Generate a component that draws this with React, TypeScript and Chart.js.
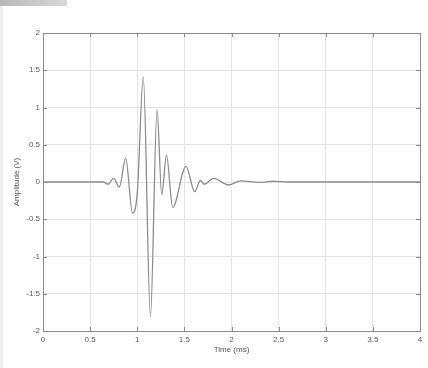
import React, { useEffect, useRef } from "react";
import { Chart, registerables } from "chart.js";

Chart.register(...registerables);

const times = [0, 0.64, 0.69, 0.75, 0.81, 0.877, 0.95, 1.0, 1.064, 1.14, 1.21, 1.26, 1.31, 1.376, 1.517, 1.61, 1.67, 1.71, 1.81, 1.97, 2.1, 2.3, 2.44, 2.6, 4];
const amplitudes = [0, 0, -0.03, 0.05, -0.07, 0.32, -0.42, -0.15, 1.41, -1.81, 0.97, -0.17, 0.36, -0.34, 0.21, -0.13, 0.02, -0.03, 0.05, -0.04, 0.015, -0.005, 0.01, 0, 0];
const xTicks = [0, 0.5, 1, 1.5, 2, 2.5, 3, 3.5, 4];
const yTicks = [-2, -1.5, -1, -0.5, 0, 0.5, 1, 1.5, 2];
const xTitle = "Time (ms)";
const yTitle = "Amplitude (V)";

const boxPlugin = {
  id: "matlabBox",
  afterDraw(chart: any) {
    const { ctx, chartArea: a, scales } = chart;
    ctx.save();
    ctx.strokeStyle = "#8a8a8a";
    ctx.lineWidth = 1;
    ctx.strokeRect(a.left + 0.5, a.top + 0.5, a.right - a.left, a.bottom - a.top);
    const L = 4;
    ctx.beginPath();
    xTicks.forEach((v) => {
      const x = Math.round(scales.x.getPixelForValue(v)) + 0.5;
      ctx.moveTo(x, a.bottom);
      ctx.lineTo(x, a.bottom - L);
      ctx.moveTo(x, a.top);
      ctx.lineTo(x, a.top + L);
    });
    yTicks.forEach((v) => {
      const y = Math.round(scales.y.getPixelForValue(v)) + 0.5;
      ctx.moveTo(a.left, y);
      ctx.lineTo(a.left + L, y);
      ctx.moveTo(a.right, y);
      ctx.lineTo(a.right - L, y);
    });
    ctx.stroke();
    ctx.restore();
  },
};

export default function App() {
  const ref = useRef<HTMLCanvasElement>(null);
  useEffect(() => {
    if (!ref.current) return;
    const chart = new Chart(ref.current, {
      type: "line",
      data: {
        datasets: [
          {
            data: times.map((t, i) => ({ x: t, y: amplitudes[i] })),
            borderColor: "#8c8c8c",
            borderWidth: 1.3,
            pointRadius: 0,
            cubicInterpolationMode: "monotone",
            fill: false,
          },
        ],
      },
      options: {
        responsive: false,
        animation: false,
        layout: { padding: { left: 0, right: 8, top: 33, bottom: 0 } },
        plugins: { legend: { display: false }, tooltip: { enabled: false } },
        scales: {
          x: {
            type: "linear",
            min: 0,
            max: 4,
            afterBuildTicks: (s: any) => {
              s.ticks = xTicks.map((v) => ({ value: v }));
            },
            afterFit: (s: any) => {
              s.height = 37;
            },
            grid: { color: "#e4e4e4", drawTicks: false },
            border: { display: false },
            ticks: {
              padding: 4,
              color: "#5a5a5a",
              font: { family: "Liberation Sans", size: 8 },
              maxRotation: 0,
              callback: (v: any) => String(v),
            },
            title: {
              display: true,
              text: xTitle,
              color: "#555",
              font: { family: "Liberation Sans", size: 8 },
              padding: { top: 0, bottom: 13 },
            },
          },
          y: {
            type: "linear",
            min: -2,
            max: 2,
            afterBuildTicks: (s: any) => {
              s.ticks = yTicks.map((v) => ({ value: v }));
            },
            afterFit: (s: any) => {
              s.width = 43;
            },
            grid: { color: "#e4e4e4", drawTicks: false },
            border: { display: false },
            ticks: {
              padding: 3,
              color: "#5a5a5a",
              font: { family: "Liberation Sans", size: 8 },
              callback: (v: any) => String(v),
            },
            title: {
              display: true,
              text: yTitle,
              color: "#555",
              font: { family: "Liberation Sans", size: 8 },
              padding: { top: 12, bottom: 0 },
            },
          },
        },
      },
      plugins: [boxPlugin],
    });
    return () => chart.destroy();
  }, []);
  return (
    <div style={{ position: "fixed", left: 0, top: 0, width: 428, height: 368, background: "#fff" }}>
      <canvas ref={ref} width={428} height={368} style={{ position: "absolute", left: 0, top: 0 }} />
      <div style={{ position: "absolute", left: 0, top: 0, width: 3, height: 368, background: "#f0f0f0" }} />
      <div
        style={{
          position: "absolute",
          left: 0,
          top: 0,
          width: 67,
          height: 6,
          background: "linear-gradient(to right, #b8b8b8, #d8d8d8)",
        }}
      />
    </div>
  );
}
